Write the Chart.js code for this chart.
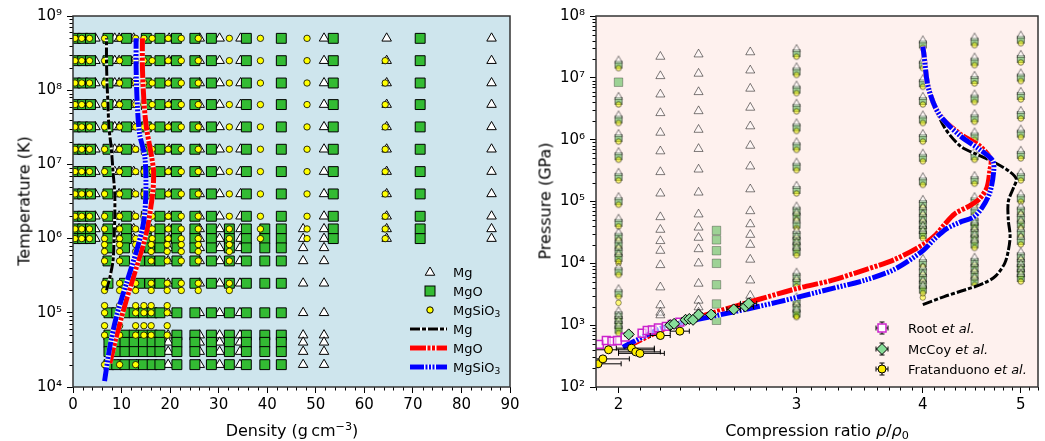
<!DOCTYPE html>
<html>
<head>
<meta charset="utf-8">
<script src="https://cdn.jsdelivr.net/npm/chart.js@4.4.0/dist/chart.umd.min.js"></script>
<style>
  body { margin: 0; background: #fff; font-family: "DejaVu Sans", sans-serif; }
  #wrap { position: relative; width: 1045px; height: 441px; overflow: hidden; }
  canvas { position: absolute; top: 0; }
  #left { left: 0; }
  #right { left: 525px; }
  .t { position: absolute; font-size: 16px; color: #000; white-space: nowrap; }
  .lg { position: absolute; font-size: 13px; color: #000; white-space: nowrap; transform: translateY(-50%); }
  sub { font-size: 70%; vertical-align: -0.3em; line-height: 0; }
  sup { font-size: 70%; vertical-align: 0.5em; line-height: 0; }
</style>
</head>
<body>
<div id="wrap">
  <canvas id="left" width="525" height="441"></canvas>
  <canvas id="right" width="520" height="441"></canvas>

  <div class="t" style="left:24px;top:201px;transform:translate(-50%,-50%) rotate(-90deg)">Temperature (K)</div>
  <div class="t" style="left:292px;top:430px;transform:translate(-50%,-50%)">Density (g&thinsp;cm<sup>−3</sup>)</div>
  <div class="t" style="left:545px;top:201px;transform:translate(-50%,-50%) rotate(-90deg)">Pressure (GPa)</div>
  <div class="t" style="left:817px;top:430px;transform:translate(-50%,-50%)">Compression ratio <i>ρ</i>/<i>ρ</i><sub>0</sub></div>

  <div class="lg" style="left:453px;top:272px">Mg</div>
  <div class="lg" style="left:453px;top:291px">MgO</div>
  <div class="lg" style="left:453px;top:310px">MgSiO<sub>3</sub></div>
  <div class="lg" style="left:453px;top:329px">Mg</div>
  <div class="lg" style="left:453px;top:348px">MgO</div>
  <div class="lg" style="left:453px;top:367px">MgSiO<sub>3</sub></div>

  <div class="lg" style="left:908px;top:328px">Root <i>et al.</i></div>
  <div class="lg" style="left:908px;top:349px">McCoy <i>et al.</i></div>
  <div class="lg" style="left:908px;top:369px">Fratanduono <i>et al.</i></div>
</div>

<script>
// ---------- left panel: computed grid (density g/cm3 vs temperature K) ----------
const T_HOT  = [5e8, 2.5e8, 1.25e8, 6.4e7, 3.2e7, 1.6e7, 8e6, 4e6, 2e6];
const T_MID  = [1.35e6, 1e6];
const T_WARM = [7.5e5, 5e5, 2.5e5];
const T_COLD = [1e5, 5e4, 4e4, 3e4, 2e4];

const mgRhoHot  = [4.6, 8.6, 9.5, 12.5, 19.8, 26.1, 30.2, 34.5, 51.7, 64.6, 86.2];
const mgRhoMid  = [4.6, 8.6, 9.5, 12.5, 19.8, 26.1, 30.2, 34.5, 47.4, 51.7, 64.6, 86.2];
const mgRhoWarm = [19.6, 26.1, 30.2, 34.4, 47.4, 51.7];
const mgRhoCold = [9.3, 13.1, 19.6, 26.1, 30.2, 34.4, 47.4, 51.7];

const mgoRhoHot  = [0.5, 2.0, 3.6, 7.2, 11.0, 15.1, 17.9, 21.3, 25.1, 28.5, 35.7, 42.9, 53.6, 71.5];
const mgoRhoMid  = [0.5, 2.0, 3.6, 7.2, 11.0, 15.1, 17.9, 21.3, 25.1, 28.5, 32.2, 35.7, 39.5, 42.9, 53.6, 71.5];
const mgoRhoWarm = [7.2, 10.6, 13.7, 15.8, 17.9, 21.4, 25.1, 28.5, 32.2, 35.7, 39.5, 42.9];
const mgoRhoCold = [7.4, 9.0, 10.7, 12.6, 14.5, 16.3, 17.9, 21.4, 25.1, 28.5, 32.2, 35.7, 39.5, 42.9];

const T_SIO3_HOT  = [5e8, 2.5e8, 1.25e8, 6.4e7, 3.2e7, 1.6e7, 8e6, 4e6, 2e6, 1.35e6, 1e6];
const T_SIO3_FAR  = [2.5e8, 1.25e8, 6.4e7, 3.2e7, 1.6e7, 8e6, 4e6, 2e6, 1.35e6, 1e6];
const T_SIO3_WARM = [8.3e5, 6.7e5, 5e5, 2.5e5, 2e5];
const T_SIO3_COOL = [1.25e5, 1e5, 6.7e4, 5e4];
const T_SIO3_COLD = [2e4];
const sio3RhoHot  = [0.4, 1.8, 3.4, 6.5, 9.6, 12.9, 14.6, 16.3, 19.6, 22.3, 25.8, 32.2, 38.6, 48.2];
const sio3RhoFar  = [64.3];
const sio3RhoWarm = [6.5, 9.6, 12.9, 16.1, 19.4, 22.3, 25.8, 32.2];
const sio3RhoCool = [6.5, 9.6, 12.9, 14.6, 16.1, 19.4];
const sio3RhoCold = [6.5, 9.6, 12.9];

// curves (density, temperature)
const mgLineRho   = [6.9, 7.6, 8.25, 8.45, 8.6, 8.6, 8.25, 7.9, 7.4, 7.2, 7.0, 6.9, 6.9];
const mgLineT     = [2e5, 3e5, 5.1e5, 9.5e5, 2e6, 4e6, 7.9e6, 1.6e7, 3.2e7, 6.5e7, 1.3e8, 2.5e8, 5e8];
const mgoLineRho  = [7.6, 8.9, 11.0, 13.1, 15.1, 16.4, 16.6, 16.2, 15.1, 14.6, 14.3, 14.3];
const mgoLineT    = [2.1e4, 4.7e4, 1.5e5, 4.2e5, 1.2e6, 4e6, 7.9e6, 1.26e7, 3.2e7, 7.3e7, 2e8, 5e8];
const sio3LineRho = [6.5, 7.6, 8.9, 11.0, 13.1, 14.5, 15.0, 14.8, 13.7, 13.2, 13.0, 13.0];
const sio3LineT   = [1.2e4, 3.5e4, 8.7e4, 2.5e5, 6.9e5, 1.6e6, 4e6, 1.26e7, 2.6e7, 7.3e7, 2e8, 5e8];

// ---------- right panel: Hugoniot (compression ratio vs pressure GPa) ----------
const colRatio = [2.0, 3.0, 4.0, 4.5, 5.0];
const colP2  = [1.7e7, 4.4e6, 2.2e6, 1.1e6, 5.6e5, 2.6e5, 1.05e5, 4.7e4, 2.8e4, 2.1e4, 1.6e4, 1.27e4, 7.7e3, 3.4e3, 1.5e3, 1.26e3, 1.05e3, 880];
const colP3  = [2.6e7, 1.32e7, 6.7e6, 3.4e6, 1.64e6, 8.1e5, 3.8e5, 1.6e5, 7.4e4, 5.9e4, 4.4e4, 3e4, 2.4e4, 1.95e4, 1.6e4, 6.3e3, 5e3, 2.5e3, 1.95e3, 1.6e3];
const colP4  = [3.6e7, 1.7e7, 8.5e6, 4.4e6, 2.2e6, 1.1e6, 5.3e5, 2.2e5, 9.5e4, 7.2e4, 5.6e4, 4.4e4, 3.6e4, 3e4, 1.05e4, 7.7e3, 6e3, 4.7e3, 3.9e3];
const colP45 = [4e7, 1.9e7, 9.6e6, 4.8e6, 2.3e6, 1.17e6, 5.6e5, 2.3e5, 1.05e5, 7.2e4, 4.9e4, 4.1e4, 3.2e4, 2.6e4, 2.1e4, 1.1e4, 8.7e3, 6.8e3, 5.3e3];
const colP5  = [4.3e7, 2.1e7, 1.05e7, 5.3e6, 2.6e6, 1.3e6, 5.9e5, 2.6e5, 1.17e5, 7.4e4, 5.6e4, 4.4e4, 3.2e4, 2.4e4, 1.35e4, 1.05e4, 8.7e3, 7.2e3, 6e3];

const triRatio = [2.2, 2.4, 2.7];
const triP22 = [2.2e7, 1.07e7, 5.4e6, 2.7e6, 1.3e6, 6.5e5, 3e5, 1.35e5, 5.6e4, 3.5e4, 2.3e4, 1.6e4, 9.4e3, 4.1e3, 2.1e3, 1.6e3, 1.45e3];
const triP24 = [2.4e7, 1.17e7, 5.9e6, 2.9e6, 1.45e6, 7.1e5, 3.3e5, 1.4e5, 6.2e4, 3.8e4, 2.6e4, 1.7e4, 1e4, 4.7e3, 2.5e3, 1.95e3, 1.6e3];
const triP27 = [2.6e7, 1.32e7, 6.7e6, 3.3e6, 1.65e6, 8e5, 3.7e5, 1.58e5, 7e4, 4.3e4, 2.9e4, 2e4, 1.15e4, 5.3e3, 3e3, 2.35e3];
const sqRatio = [2.5, 2.0];
const sqP25 = [3.4e4, 2.4e4, 1.6e4, 1e4, 4.5e3, 2.2e3, 1.2e3];
const sqP20 = [8.5e6];
const dotRatio = [2.0, 3.0, 4.0];
const dotP = [[1e4, 2.3e3], [1.4e3], [2.8e3]];

const hugMgoR  = [2.04, 2.25, 2.5, 2.75, 3.0, 3.25, 3.5, 3.75, 4.0, 4.12, 4.2, 4.3, 4.45, 4.55, 4.63, 4.66, 4.67, 4.55, 4.35, 4.15, 4.05, 4.01, 4.0];
const hugMgoP  = [450, 960, 1650, 2600, 3900, 5300, 7800, 1.15e4, 2.0e4, 2.9e4, 4.2e4, 6.3e4, 8.5e4, 1.1e5, 1.7e5, 3.2e5, 4.8e5, 8e5, 1.25e6, 2.6e6, 7e6, 2.4e7, 3.2e7];
const hugSio3R = [2.02, 2.22, 2.5, 2.75, 3.0, 3.25, 3.5, 3.75, 4.0, 4.1, 4.22, 4.35, 4.49, 4.58, 4.66, 4.70, 4.69, 4.55, 4.35, 4.15, 4.05, 4.01, 4.0];
const hugSio3P = [440, 930, 1430, 2000, 2800, 3900, 5300, 8000, 1.6e4, 2.4e4, 3.6e4, 4.6e4, 5.6e4, 8e4, 1.4e5, 3.0e5, 4.6e5, 7e5, 1.17e6, 2.6e6, 7e6, 2.4e7, 3.2e7];
const hugMgR   = [4.0, 4.2, 4.4, 4.6, 4.72, 4.82, 4.86, 4.88, 4.86, 4.86, 4.92, 4.95, 4.88, 4.72, 4.52, 4.36, 4.2, 4.09, 4.04, 4.01];
const hugMgP   = [2150, 2900, 3700, 4800, 6200, 1.0e4, 1.6e4, 2.8e4, 5e4, 1.0e5, 1.7e5, 2.3e5, 3.0e5, 4.2e5, 5.8e5, 7.8e5, 1.6e6, 4.5e6, 1e7, 2e7];

// experiments
const rootR = [1.915, 1.945, 1.97, 1.995, 2.03, 2.11, 2.135, 2.16, 2.19, 2.23, 2.26, 2.30];
const rootP = [490, 565, 550, 565, 640, 740, 820, 840, 905, 955, 1030, 1120];
const mccoyR  = [2.047, 2.25, 2.27, 2.33, 2.35, 2.37, 2.40, 2.47, 2.60, 2.67, 2.69];
const mccoyP  = [710, 1000, 1050, 1220, 1260, 1220, 1480, 1480, 1800, 2000, 2250];
const mccoyLo = [2.03, 2.23, 2.25, 2.31, 2.33, 2.35, 2.38, 2.45, 2.56, 2.62, 2.64];
const mccoyHi = [2.065, 2.27, 2.29, 2.35, 2.37, 2.39, 2.42, 2.49, 2.64, 2.72, 2.74];
const fratR  = [1.909, 1.93, 1.955, 2.06, 2.08, 2.10, 2.20, 2.30];
const fratP  = [237, 285, 400, 425, 370, 350, 680, 800];
const fratLo = [1.82, 1.85, 1.80, 1.99, 2.0, 2.0, 2.15, 2.25];
const fratHi = [2.012, 2.05, 2.17, 2.17, 2.2, 2.22, 2.25, 2.35];

// axis ticks
const leftXTicks = [0, 10, 20, 30, 40, 50, 60, 70, 80, 90];
const leftYTicks = [1e4, 1e5, 1e6, 1e7, 1e8, 1e9];
const rightXTicks = [2, 3, 4, 5];
const rightYTicks = [1e2, 1e3, 1e4, 1e5, 1e6, 1e7, 1e8];

const FONT = '"DejaVu Sans", sans-serif';
const SUP = { 2: '²', 3: '³', 4: '⁴', 5: '⁵', 6: '⁶', 7: '⁷', 8: '⁸', 9: '⁹' };
const powLabel = v => '10' + SUP[Math.round(Math.log10(v))];

function logMinors(lo, hi) {
  const out = [];
  for (let e = lo; e < hi; e++) for (let m = 2; m <= 9; m++) out.push(m * Math.pow(10, e));
  return out;
}
const leftXMinor = [];
for (let v = 0; v <= 90; v += 2) if (v % 10) leftXMinor.push(v);
const rightXMinor = [];
for (let v = 19; v <= 52; v++) if (v % 10) rightXMinor.push(v / 10);

function gridPoints(rows) {
  const pts = [];
  for (const [temps, rhos] of rows) for (const t of temps) for (const r of rhos) pts.push({ x: r, y: t });
  return pts;
}
function colPoints(xs, cols) {
  const pts = [];
  xs.forEach((x, i) => cols[i].forEach(p => pts.push({ x, y: p })));
  return pts;
}
function zip(xs, ys) { return xs.map((x, i) => ({ x, y: ys[i] })); }

function lineSet(xs, ys, color, width, dash, order) {
  return { data: zip(xs, ys), showLine: true, borderColor: color, borderWidth: width, borderDash: dash,
           pointRadius: 0, pointHoverRadius: 0, tension: 0.3, order };
}

// frame: background, outline and minor ticks
function makeFrame(bg, xMinor, yMinor) {
  return {
    id: 'frame',
    beforeDraw(chart) {
      const { ctx, chartArea: a } = chart;
      ctx.save();
      ctx.fillStyle = bg;
      ctx.fillRect(a.left, a.top, a.right - a.left, a.bottom - a.top);
      ctx.restore();
    },
    afterDraw(chart) {
      const { ctx, chartArea: a, scales } = chart;
      ctx.save();
      ctx.strokeStyle = '#000';
      ctx.lineWidth = 1;
      ctx.beginPath();
      for (const v of xMinor) {
        const p = Math.round(scales.x.getPixelForValue(v)) + 0.5;
        if (p < a.left - 1 || p > a.right + 1) continue;
        ctx.moveTo(p, a.bottom); ctx.lineTo(p, a.bottom + 3.5);
      }
      for (const v of yMinor) {
        const p = Math.round(scales.y.getPixelForValue(v)) + 0.5;
        if (p < a.top - 1 || p > a.bottom + 1) continue;
        ctx.moveTo(a.left, p); ctx.lineTo(a.left - 3.5, p);
      }
      ctx.stroke();
      ctx.strokeStyle = '#333';
      ctx.lineWidth = 1.5;
      ctx.strokeRect(a.left, a.top, a.right - a.left, a.bottom - a.top);
      ctx.restore();
    }
  };
}

const errorBars = {
  id: 'errorBars',
  beforeDatasetDraw(chart, args) {
    const ds = chart.data.datasets[args.index];
    if (!ds.errLo) return;
    const { ctx, chartArea: a, scales: { x, y } } = chart;
    ctx.save();
    ctx.beginPath();
    ctx.rect(a.left, a.top, a.right - a.left, a.bottom - a.top);
    ctx.clip();
    ctx.strokeStyle = '#000';
    ctx.lineWidth = 1;
    ds.data.forEach((p, i) => {
      const py = y.getPixelForValue(p.y);
      const x0 = x.getPixelForValue(ds.errLo[i]);
      const x1 = x.getPixelForValue(ds.errHi[i]);
      ctx.beginPath();
      ctx.moveTo(x0, py); ctx.lineTo(x1, py);
      ctx.moveTo(x0, py - 2.5); ctx.lineTo(x0, py + 2.5);
      ctx.moveTo(x1, py - 2.5); ctx.lineTo(x1, py + 2.5);
      ctx.stroke();
    });
    ctx.restore();
  }
};

// glyph helpers for legends
function tri(ctx, x, y, r) {
  ctx.beginPath();
  ctx.moveTo(x, y - r);
  ctx.lineTo(x + r * 0.866, y + r * 0.5);
  ctx.lineTo(x - r * 0.866, y + r * 0.5);
  ctx.closePath();
}
function dashLine(ctx, x0, x1, y, color, width, dash) {
  ctx.save();
  ctx.lineWidth = width;
  ctx.strokeStyle = 'rgba(255,255,255,0.9)';
  ctx.beginPath(); ctx.moveTo(x0, y); ctx.lineTo(x1, y); ctx.stroke();
  ctx.strokeStyle = color;
  ctx.setLineDash(dash);
  ctx.beginPath(); ctx.moveTo(x0, y); ctx.lineTo(x1, y); ctx.stroke();
  ctx.restore();
}

const DASH_MG = [10, 2, 4, 2];
const DASH_MGO = [16, 1.5, 3, 1.5, 3, 1.5];
const DASH_SIO3 = [14, 1.5, 2, 1.5, 2, 1.5, 2, 1.5];

const leftLegend = {
  id: 'leftLegend',
  afterDraw(chart) {
    const ctx = chart.ctx;
    ctx.save();
    ctx.lineWidth = 1;
    ctx.strokeStyle = '#000';
    tri(ctx, 430, 272.5, 5.5); ctx.fillStyle = '#fff'; ctx.fill(); ctx.stroke();
    ctx.fillStyle = '#33bb33'; ctx.fillRect(425, 286, 10, 10); ctx.strokeRect(425, 286, 10, 10);
    ctx.beginPath(); ctx.arc(430, 310, 3.2, 0, Math.PI * 2); ctx.fillStyle = '#ffff00'; ctx.fill(); ctx.stroke();
    dashLine(ctx, 410, 447, 329, '#000', 3, DASH_MG);
    dashLine(ctx, 410, 447, 348, '#ff0000', 5, DASH_MGO);
    dashLine(ctx, 410, 447, 367, '#0000ff', 5, DASH_SIO3);
    ctx.restore();
  }
};

const rightLegend = {
  id: 'rightLegend',
  afterDraw(chart) {
    const ctx = chart.ctx;
    const x = 357;
    ctx.save();
    ctx.lineWidth = 1;
    ctx.strokeStyle = '#000';
    for (const y of [328, 349, 369]) {
      ctx.beginPath();
      ctx.moveTo(x - 6, y); ctx.lineTo(x + 6, y);
      ctx.moveTo(x - 6, y - 2.5); ctx.lineTo(x - 6, y + 2.5);
      ctx.moveTo(x + 6, y - 2.5); ctx.lineTo(x + 6, y + 2.5);
      ctx.moveTo(x, y - 6); ctx.lineTo(x, y + 6);
      ctx.moveTo(x - 2.5, y - 6); ctx.lineTo(x + 2.5, y - 6);
      ctx.moveTo(x - 2.5, y + 6); ctx.lineTo(x + 2.5, y + 6);
      ctx.stroke();
    }
    ctx.lineWidth = 1.5;
    ctx.strokeStyle = '#cc22cc';
    ctx.fillStyle = '#fff';
    ctx.fillRect(x - 4, 324, 8, 8); ctx.strokeRect(x - 4, 324, 8, 8);
    ctx.lineWidth = 1;
    ctx.strokeStyle = '#000';
    ctx.beginPath(); ctx.moveTo(x, 343.5); ctx.lineTo(x + 5.5, 349); ctx.lineTo(x, 354.5); ctx.lineTo(x - 5.5, 349); ctx.closePath();
    ctx.fillStyle = '#88dd99'; ctx.fill(); ctx.stroke();
    ctx.beginPath(); ctx.arc(x, 369, 4, 0, Math.PI * 2);
    ctx.fillStyle = '#ffee00'; ctx.fill(); ctx.stroke();
    ctx.restore();
  }
};

// composite marker: the three materials share each computed Hugoniot state
function comboGlyph() {
  const c = document.createElement('canvas');
  c.width = 12; c.height = 18;
  const g = c.getContext('2d');
  g.globalAlpha = 0.5;
  g.lineWidth = 1;
  g.strokeStyle = '#000';
  g.fillStyle = '#3cb43c';
  g.fillRect(2.5, 6.5, 7, 7); g.strokeRect(2.5, 6.5, 7, 7);
  tri(g, 6, 6, 4.6); g.fillStyle = '#fff'; g.fill(); g.stroke();
  g.beginPath(); g.arc(6, 13.5, 2.8, 0, Math.PI * 2); g.fillStyle = '#ffff00'; g.fill(); g.stroke();
  return c;
}

function axisX(type, min, max, majors, label) {
  return {
    type, min, max,
    afterBuildTicks: s => { s.ticks = majors.map(v => ({ value: v })); },
    afterFit: s => { s.height = 54; },
    ticks: { font: { size: 15, family: FONT }, color: '#000', padding: 3, maxRotation: 0, autoSkip: false, callback: label },
    grid: { drawOnChartArea: false, tickLength: 6, tickColor: '#000', tickWidth: 1 },
    border: { display: false }
  };
}
function axisY(min, max, majors, width) {
  return {
    type: 'logarithmic', min, max,
    afterBuildTicks: s => { s.ticks = majors.map(v => ({ value: v })); },
    afterFit: s => { s.width = width; },
    ticks: { font: { size: 15, family: FONT }, color: '#000', padding: 5, autoSkip: false, callback: v => powLabel(v) },
    grid: { drawOnChartArea: false, tickLength: 6, tickColor: '#000', tickWidth: 1 },
    border: { display: false }
  };
}

const baseOptions = {
  responsive: false,
  animation: false,
  events: [],
  plugins: { legend: { display: false }, tooltip: { enabled: false } }
};

// ---- left chart ----
new Chart(document.getElementById('left'), {
  type: 'scatter',
  data: {
    datasets: [
      lineSet(sio3LineRho, sio3LineT, '#0000ff', 5, DASH_SIO3, 1),
      lineSet(sio3LineRho, sio3LineT, 'rgba(255,255,255,0.9)', 5, [], 2),
      lineSet(mgoLineRho, mgoLineT, '#ff0000', 5, DASH_MGO, 3),
      lineSet(mgoLineRho, mgoLineT, 'rgba(255,255,255,0.9)', 5, [], 4),
      lineSet(mgLineRho, mgLineT, '#000000', 3, DASH_MG, 5),
      lineSet(mgLineRho, mgLineT, 'rgba(255,255,255,0.9)', 3, [], 6),
      { label: 'MgSiO3', order: 7,
        data: gridPoints([[T_SIO3_HOT, sio3RhoHot], [T_SIO3_FAR, sio3RhoFar], [T_SIO3_WARM, sio3RhoWarm],
                          [T_SIO3_COOL, sio3RhoCool], [T_SIO3_COLD, sio3RhoCold]]),
        pointStyle: 'circle', pointRadius: 3.2, backgroundColor: '#ffff00', borderColor: '#000', borderWidth: 0.8 },
      { label: 'MgO', order: 8,
        data: gridPoints([[T_HOT, mgoRhoHot], [T_MID, mgoRhoMid], [T_WARM, mgoRhoWarm], [T_COLD, mgoRhoCold]]),
        pointStyle: 'rect', pointRadius: 7, backgroundColor: '#33bb33', borderColor: '#000', borderWidth: 1 },
      { label: 'Mg', order: 9,
        data: gridPoints([[T_HOT, mgRhoHot], [T_MID, mgRhoMid], [T_WARM, mgRhoWarm], [T_COLD, mgRhoCold]]),
        pointStyle: 'triangle', pointRadius: 5.5, backgroundColor: '#fff', borderColor: '#000', borderWidth: 1 }
    ]
  },
  options: Object.assign({}, baseOptions, {
    layout: { padding: { top: 16, right: 15, left: 0, bottom: 0 } },
    scales: {
      x: axisX('linear', 0, 90, leftXTicks, v => String(v)),
      y: axisY(1e4, 1e9, leftYTicks, 73)
    }
  }),
  plugins: [makeFrame('#cee5ed', leftXMinor, logMinors(4, 9)), leftLegend]
});

// ---- right chart ----
const combo = comboGlyph();
new Chart(document.getElementById('right'), {
  type: 'scatter',
  data: {
    datasets: [
      { label: 'Fratanduono et al.', order: 0, data: zip(fratR, fratP), errLo: fratLo, errHi: fratHi,
        pointStyle: 'circle', pointRadius: 4, backgroundColor: '#ffee00', borderColor: '#000', borderWidth: 1 },
      { label: 'McCoy et al.', order: 1, data: zip(mccoyR, mccoyP), errLo: mccoyLo, errHi: mccoyHi,
        pointStyle: 'rectRot', pointRadius: 5.5, backgroundColor: '#88dd99', borderColor: '#000', borderWidth: 1 },
      { label: 'Root et al.', order: 2, data: zip(rootR, rootP),
        pointStyle: 'rect', pointRadius: 5.5, backgroundColor: 'rgba(255,255,255,0.6)', borderColor: '#cc22cc', borderWidth: 1.5 },
      lineSet(hugSio3R, hugSio3P, '#0000ff', 5, DASH_SIO3, 3),
      lineSet(hugSio3R, hugSio3P, 'rgba(255,255,255,0.9)', 5, [], 4),
      lineSet(hugMgoR, hugMgoP, '#ff0000', 5, DASH_MGO, 5),
      lineSet(hugMgoR, hugMgoP, 'rgba(255,255,255,0.9)', 5, [], 6),
      lineSet(hugMgR, hugMgP, '#000000', 3, DASH_MG, 7),
      lineSet(hugMgR, hugMgP, 'rgba(255,255,255,0.9)', 3, [], 8),
      { label: 'computed', order: 9, data: colPoints(colRatio, [colP2, colP3, colP4, colP45, colP5]),
        pointStyle: combo, pointRadius: 5 },
      { label: 'MgSiO3 only', order: 10, data: colPoints(dotRatio, dotP),
        pointStyle: 'circle', pointRadius: 2.8, backgroundColor: 'rgba(255,255,0,0.5)', borderColor: 'rgba(0,0,0,0.4)', borderWidth: 1 },
      { label: 'MgO only', order: 11, data: colPoints(sqRatio, [sqP25, sqP20]),
        pointStyle: 'rect', pointRadius: 6, backgroundColor: 'rgba(60,180,60,0.5)', borderColor: 'rgba(0,0,0,0.3)', borderWidth: 1 },
      { label: 'Mg only', order: 12, data: colPoints(triRatio, [triP22, triP24, triP27]),
        pointStyle: 'triangle', pointRadius: 5.2, backgroundColor: 'rgba(255,255,255,0.4)', borderColor: 'rgba(0,0,0,0.5)', borderWidth: 1 }
    ]
  },
  options: Object.assign({}, baseOptions, {
    layout: { padding: { top: 16, right: 6, left: 0, bottom: 0 } },
    scales: {
      x: axisX('logarithmic', 1.9, 5.2, rightXTicks, v => String(v)),
      y: axisY(1e2, 1e8, rightYTicks, 71)
    }
  }),
  plugins: [makeFrame('#fef1ee', rightXMinor, logMinors(2, 8)), errorBars, rightLegend]
});
</script>
</body>
</html>
